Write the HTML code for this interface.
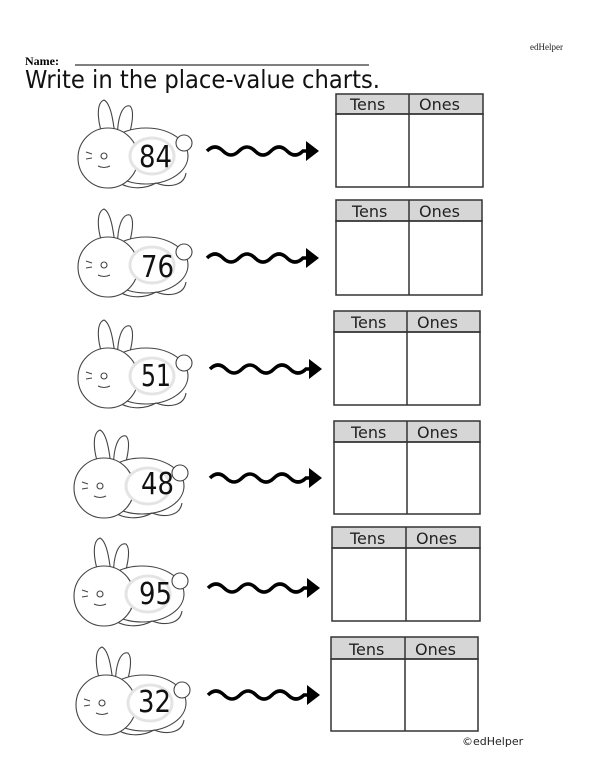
<!DOCTYPE html>
<html><head><meta charset="utf-8"><style>
html,body{margin:0;padding:0;background:#fff;width:600px;height:776px;overflow:hidden}
svg{display:block}
.n{font-family:"DejaVu Sans","Liberation Sans",sans-serif;font-size:30px;fill:#111}
.h{font-family:"DejaVu Sans","Liberation Sans",sans-serif;font-size:16px;fill:#222}
</style></head><body>
<svg width="600" height="776" viewBox="0 0 600 776" xmlns="http://www.w3.org/2000/svg">
<defs>
<g id="bun" fill="#fff" stroke="#444" stroke-width="1.1">
<path d="M33 48 C22 25 22 5 30 2 C38 6 40 30 42 45 Z"/>
<path d="M44 45 C42 22 48 6 56 8 C62 14 56 35 52 48 Z"/>
<ellipse cx="72" cy="58" rx="42" ry="28"/>
<circle cx="110" cy="45" r="8"/>
<path d="M40 80 C50 92 70 92 82 85 C95 90 110 88 112 75" fill="none"/>
<circle cx="34" cy="60" r="30"/>
<circle cx="30" cy="58" r="3"/>
<path d="M18 56 l-6 -2 M18 60 l-6 1 M24 68 q6 3 12 0" fill="none"/>
<ellipse cx="78" cy="58" rx="22" ry="18" stroke="#e4e4e4" stroke-width="3"/>
</g>
<g id="arr">
<path d="M0 0 q8 -8 16 0 t16 0 t16 0 t16 0 t16 0 t16 0 l4 0" fill="none" stroke="#000" stroke-width="3.5"/>
<path d="M99 -10 L112 0 L99 10 Z" fill="#000"/>
</g>
</defs>

<text x="530" y="50" font-family="Liberation Serif,serif" font-size="9" fill="#222">edHelper</text>
<text x="25" y="65" font-family="Liberation Serif,serif" font-size="12" font-weight="bold">Name:</text>
<line x1="75" y1="65" x2="369" y2="65" stroke="#000" stroke-width="1"/>
<text x="25" y="88" font-family="DejaVu Sans,Liberation Sans,sans-serif" font-size="25" fill="#111" textLength="355" lengthAdjust="spacingAndGlyphs">Write in the place-value charts.</text>

<use href="#bun" x="74" y="98"/>
<use href="#arr" x="207" y="151"/>
<text class="n" x="139" y="167" textLength="33" lengthAdjust="spacingAndGlyphs">84</text>
<g stroke="#333" stroke-width="1.5"><rect x="336" y="94" width="147" height="20" fill="#d6d6d6"/><rect x="336" y="114" width="147" height="73" fill="none"/><line x1="409" y1="94" x2="409" y2="187"/></g>
<text class="h" x="350" y="110">Tens</text><text class="h" x="419" y="110">Ones</text>

<use href="#bun" x="74" y="207"/>
<use href="#arr" x="207" y="258"/>
<text class="n" x="141" y="277" textLength="33" lengthAdjust="spacingAndGlyphs">76</text>
<g stroke="#333" stroke-width="1.5"><rect x="336" y="200" width="146" height="21" fill="#d6d6d6"/><rect x="336" y="221" width="146" height="74" fill="none"/><line x1="409" y1="200" x2="409" y2="295"/></g>
<text class="h" x="352" y="217">Tens</text><text class="h" x="419" y="217">Ones</text>

<use href="#bun" x="74" y="318"/>
<use href="#arr" x="210" y="369"/>
<text class="n" x="141" y="386" textLength="30" lengthAdjust="spacingAndGlyphs">51</text>
<g stroke="#333" stroke-width="1.5"><rect x="334" y="311" width="146" height="21" fill="#d6d6d6"/><rect x="334" y="332" width="146" height="73" fill="none"/><line x1="407" y1="311" x2="407" y2="405"/></g>
<text class="h" x="351" y="328">Tens</text><text class="h" x="417" y="328">Ones</text>

<use href="#bun" x="70" y="428"/>
<use href="#arr" x="210" y="478"/>
<text class="n" x="141" y="494" textLength="33" lengthAdjust="spacingAndGlyphs">48</text>
<g stroke="#333" stroke-width="1.5"><rect x="334" y="421" width="146" height="21" fill="#d6d6d6"/><rect x="334" y="442" width="146" height="72" fill="none"/><line x1="407" y1="421" x2="407" y2="514"/></g>
<text class="h" x="351" y="438">Tens</text><text class="h" x="417" y="438">Ones</text>

<use href="#bun" x="70" y="536"/>
<use href="#arr" x="208" y="588"/>
<text class="n" x="139" y="604" textLength="33" lengthAdjust="spacingAndGlyphs">95</text>
<g stroke="#333" stroke-width="1.5"><rect x="332" y="527" width="148" height="21" fill="#d6d6d6"/><rect x="332" y="548" width="148" height="73" fill="none"/><line x1="406" y1="527" x2="406" y2="621"/></g>
<text class="h" x="350" y="544">Tens</text><text class="h" x="416" y="544">Ones</text>

<use href="#bun" x="72" y="645"/>
<use href="#arr" x="208" y="695"/>
<text class="n" x="138" y="712" textLength="33" lengthAdjust="spacingAndGlyphs">32</text>
<g stroke="#333" stroke-width="1.5"><rect x="331" y="637" width="147" height="22" fill="#d6d6d6"/><rect x="331" y="659" width="147" height="72" fill="none"/><line x1="405" y1="637" x2="405" y2="731"/></g>
<text class="h" x="349" y="655">Tens</text><text class="h" x="415" y="655">Ones</text>

<text x="462" y="745" font-family="DejaVu Sans,Liberation Sans,sans-serif" font-size="11" fill="#222">©edHelper</text>
</svg>
</body></html>
